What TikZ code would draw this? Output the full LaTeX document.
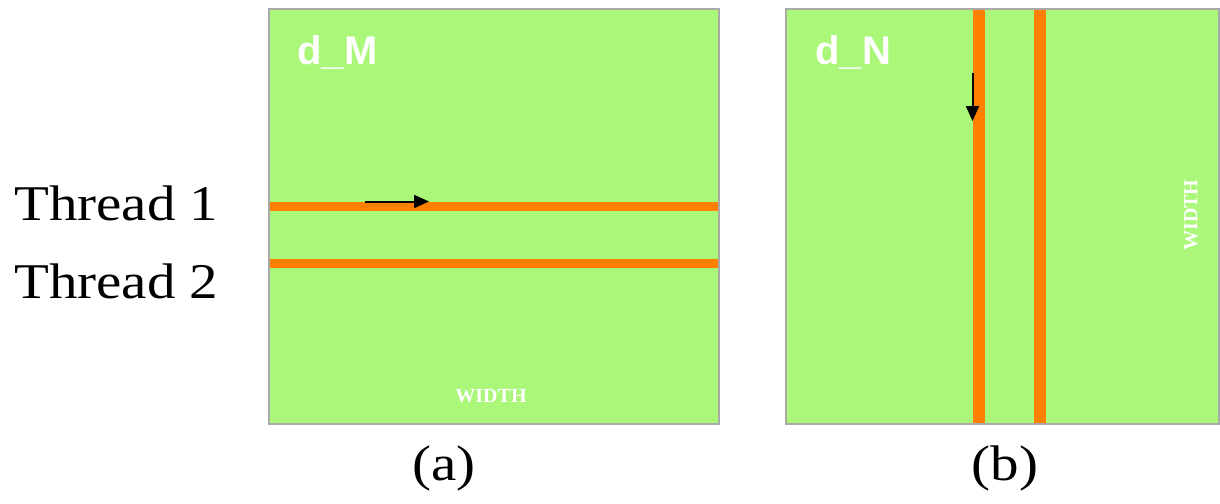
\documentclass[tikz,border=0pt]{standalone}
\usepackage{fontspec}
\setmainfont{Liberation Serif}
\setsansfont{Liberation Sans}
\newfontfamily\widefont[FakeStretch=1.14]{Liberation Serif}
\usepackage{xcolor}
\usetikzlibrary{arrows.meta, positioning}
\definecolor{matgreen}{RGB}{170,247,122}
\definecolor{rowband}{RGB}{255,127,0}
\definecolor{matframe}{RGB}{170,170,170}
\tikzset{
	matname/.style={text=white, font=\sffamily\bfseries\fontsize{40}{46}\selectfont, anchor=base west},
	widthlbl/.style={text=white, font=\bfseries\fontsize{20}{24}\selectfont, inner sep=0pt},
	threadlbl/.style={font=\widefont\fontsize{50}{58}\selectfont, anchor=base west, inner sep=0pt},
	caption/.style={font=\widefont\fontsize{50}{58}\selectfont, inner sep=0pt},
	walk/.style={-{Triangle[length=15pt, width=13pt]}, line width=2pt},
}
\begin{document}
\begin{tikzpicture}[x=1pt, y=-1pt]
	\useasboundingbox (0,0) rectangle (1220,503);
	% matrix d_M, rows walked by the threads
	\fill[matgreen] (269,9) rectangle (719,424);
	\fill[rowband] (269,202) rectangle (719,211);
	\fill[rowband] (269,259) rectangle (719,268);
	\draw[matframe, line width=1.5pt] (269,9) rectangle (719,424);
	\node[matname] (dm) at (294,64) {d\_M};
	\node[widthlbl] (wa) at (491,396) {WIDTH};
	% matrix d_N, columns walked by the threads
	\fill[matgreen] (786,9) rectangle (1219,424);
	\fill[rowband] (973,9) rectangle (985,424);
	\fill[rowband] (1034,9) rectangle (1046,424);
	\draw[matframe, line width=1.5pt] (786,9) rectangle (1219,424);
	\node[matname] (dn) at (812,64) {d\_N};
	\node[widthlbl, rotate=90] (wb) at (1191,215) {WIDTH};
	% thread labels
	\node[threadlbl] (t1) at (14,220) {Thread 1};
	\node[threadlbl] (t2) at (14,298) {Thread 2};
	% walking directions
	\coordinate (ra) at (365,201.5);
	\coordinate (rb) at (429,201.5);
	\draw[walk] (ra) -- (rb);
	\coordinate (ca) at (972.5,73);
	\coordinate (cb) at (972.5,121);
	\draw[walk] (ca) -- (cb);
	% captions
	\node[caption] (capa) at (444,468) {(a)};
	\node[caption] (capb) at (1005,468) {(b)};
\end{tikzpicture}
\end{document}
